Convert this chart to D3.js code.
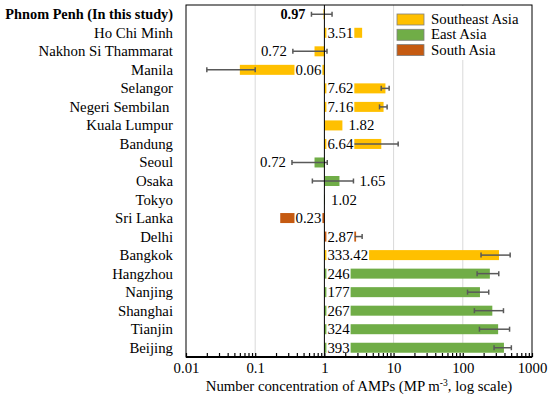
<!DOCTYPE html>
<html>
<head>
<meta charset="utf-8">
<script src="https://cdn.jsdelivr.net/npm/d3@7"></script>
</head>
<body style="margin:0;background:#fff">
<div id="chart"></div>
<script>
const cities = ["Phnom Penh (In this study)", "Ho Chi Minh", "Nakhon Si Thammarat", "Manila",
  "Selangor", "Negeri Sembilan ", "Kuala Lumpur", "Bandung", "Seoul", "Osaka", "Tokyo",
  "Sri Lanka", "Delhi", "Bangkok", "Hangzhou", "Nanjing", "Shanghai", "Tianjin", "Beijing"];
const values = [0.97, 3.51, 0.72, 0.06, 7.62, 7.16, 1.82, 6.64, 0.72, 1.65, 1.02,
  0.23, 2.87, 333.42, 246, 177, 267, 324, 393];
const errors = [0.32, 0, 0.37, 0.04, 1.0, 0.9, 0, 5.0, 0.38, 0.98, 0,
  0, 0.64, 150, 85, 60, 120, 150, 110];
const regions = ["Southeast Asia", "Southeast Asia", "Southeast Asia", "Southeast Asia",
  "Southeast Asia", "Southeast Asia", "Southeast Asia", "Southeast Asia", "East Asia", "East Asia",
  "East Asia", "South Asia", "South Asia", "Southeast Asia", "East Asia", "East Asia",
  "East Asia", "East Asia", "East Asia"];
const regionNames = ["Southeast Asia", "East Asia", "South Asia"];
const xTicks = [0.01, 0.1, 1, 10, 100, 1000];

const width = 550, height = 411;
const margin = ({top: 5, right: 18, bottom: 54, left: 186});
const fontSize = 14.8;
const font = "'Liberation Serif', serif";

const x = d3.scaleLog().domain([0.01, 1000]).range([margin.left, width - margin.right]);
const y = d3.scaleBand().domain(cities).range([margin.top, height - margin.bottom]).paddingInner(0.46).paddingOuter(0.23);
const color = d3.scaleOrdinal().domain(regionNames).range(["#FFC000", "#70AD47", "#C55A11"]);

const svg = d3.select("#chart").append("svg")
  .attr("width", width)
  .attr("height", height);

const plotTop = margin.top, plotBottom = height - margin.bottom;

// vertical grid lines at decades
svg.append("g")
  .selectAll("line")
  .data(xTicks.filter(d => d !== 1 && d !== 0.01 && d !== 1000))
  .join("line")
    .attr("x1", d => x(d)).attr("x2", d => x(d))
    .attr("y1", plotTop).attr("y2", plotBottom)
    .attr("stroke", "#d9d9d9")
    .attr("stroke-width", 1);

const rows = cities.map((c, i) => ({city: c, value: values[i], err: errors[i], region: regions[i], i: i}));

// bars from 1
svg.append("g")
  .selectAll("rect")
  .data(rows)
  .join("rect")
    .attr("x", d => Math.min(x(1), x(d.value)))
    .attr("width", d => Math.abs(x(d.value) - x(1)))
    .attr("y", d => y(d.city))
    .attr("height", y.bandwidth())
    .attr("fill", d => color(d.region));

// error bars
const lo = d => x(Math.max(d.value - d.err, 0.011));
const hi = d => x(d.value + d.err);
const eb = svg.append("g")
  .attr("stroke", "#595959")
  .attr("stroke-width", 1.5)
  .selectAll("g")
  .data(rows.filter(d => d.err > 0))
  .join("g")
    .attr("transform", d => `translate(0,${y(d.city) + y.bandwidth() / 2})`);
eb.append("line").attr("x1", lo).attr("x2", hi);
eb.append("line").attr("x1", lo).attr("x2", lo).attr("y1", -2.5).attr("y2", 2.5);
eb.append("line").attr("x1", hi).attr("x2", hi).attr("y1", -2.5).attr("y2", 2.5);

// axis line at 1
svg.append("line")
  .attr("x1", x(1)).attr("x2", x(1))
  .attr("y1", plotTop).attr("y2", plotBottom)
  .attr("stroke", "#000")
  .attr("stroke-width", 1);

// data labels
const labels = svg.append("g");
rows.forEach(d => {
  const barW = Math.abs(x(d.value) - x(1));
  const right = d.value >= 1;
  const cy = y(d.city) + y.bandwidth() / 2;
  const inside = barW > 25;
  let tx;
  if (inside) {
    tx = right ? x(1) + 3 : x(1) - 3;
  } else if (right) {
    tx = (d.err > 0 ? hi(d) : x(d.value)) + 6;
  } else {
    tx = (d.err > 0 ? lo(d) : x(d.value)) - 6;
  }
  const g = labels.append("g");
  const t = g.append("text")
    .attr("x", tx)
    .attr("y", cy + 5)
    .attr("text-anchor", right ? "start" : "end")
    .attr("font-family", font)
    .attr("font-size", d.i === 0 ? 14.3 : fontSize)
    .attr("font-weight", d.i === 0 ? "bold" : "normal")
    .attr("fill", "#000")
    .text(String(d.value));
  if (inside) {
    const w = t.node().getComputedTextLength();
    g.insert("rect", "text")
      .attr("x", right ? tx - 1 : tx - w - 1)
      .attr("y", y(d.city) - 1)
      .attr("width", w + 2)
      .attr("height", y.bandwidth() + 2)
      .attr("fill", "#fff");
  }
});

// category labels
svg.append("g")
  .selectAll("text")
  .data(rows)
  .join("text")
    .attr("x", 173)
    .attr("y", d => y(d.city) + y.bandwidth() / 2 + 5)
    .attr("text-anchor", "end")
    .attr("font-size", d => d.i === 0 ? 14.3 : fontSize)
    .attr("font-weight", d => d.i === 0 ? "bold" : "normal")
    .attr("xml:space", "preserve")
    .text(d => d.city);

// plot border
svg.append("rect")
  .attr("x", margin.left).attr("y", plotTop)
  .attr("width", x(1000) - x(0.01)).attr("height", plotBottom - plotTop)
  .attr("fill", "none")
  .attr("stroke", "#000")
  .attr("stroke-width", 1);

// bottom axis with inside ticks
const xAxis = svg.append("g")
  .attr("transform", `translate(0,${plotBottom})`)
  .call(d3.axisBottom(x)
    .tickValues(x.ticks())
    .tickSize(-4)
    .tickPadding(5)
    .tickFormat(d => xTicks.includes(d) ? String(d) : ""));
xAxis.attr("font-size", fontSize);
xAxis.select(".domain").attr("stroke-width", 2).attr("d", `M${x(0.01)},0H${x(1000)}`);
xAxis.selectAll(".tick line").attr("stroke", "#000").attr("stroke-width", 1.2);
xAxis.selectAll(".tick text").attr("fill", "#000");

const title = svg.append("text")
  .attr("x", (x(0.01) + x(1000)) / 2)
  .attr("y", 391)
  .attr("text-anchor", "middle")
  .attr("font-size", fontSize);
title.append("tspan").text("Number concentration of AMPs (MP m");
title.append("tspan").attr("dy", -5).attr("font-size", 9.5).text("-3");
title.append("tspan").attr("dy", 5).text(", log scale)");

// legend
const legend = svg.append("g");
legend.append("rect")
  .attr("x", 395).attr("y", plotTop + 1)
  .attr("width", x(1000) - 396).attr("height", 54)
  .attr("fill", "#fff");
const li = legend.selectAll("g.item")
  .data(regionNames)
  .join("g")
    .attr("class", "item")
    .attr("transform", (d, i) => `translate(397,${14 + i * 15.3})`);
li.append("rect")
  .attr("width", 27).attr("height", 11)
  .attr("fill", d => color(d))
  .attr("stroke", "#7f7f7f")
  .attr("stroke-width", 0.8);
li.append("text")
  .attr("x", 34).attr("y", 10)
  .attr("font-size", fontSize)
  .text(d => d);

// serif font on every text element
svg.selectAll("text").attr("font-family", font);
</script>
</body>
</html>
